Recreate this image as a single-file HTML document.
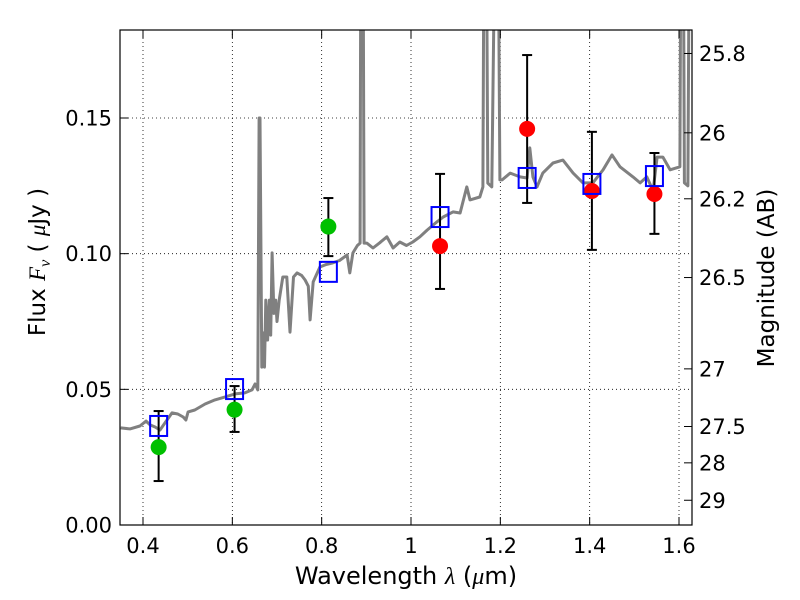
<!DOCTYPE html>
<html><head><meta charset="utf-8"><style>
html,body{margin:0;padding:0;background:#fff;}
svg{display:block;font-family:"DejaVu Sans","Liberation Sans",sans-serif;}
</style></head><body>
<svg id="chart" width="800" height="600" viewBox="0 0 800 600">
<defs><clipPath id="clip"><rect x="120" y="30" width="572" height="495"/></clipPath></defs>
<rect x="0" y="0" width="800" height="600" fill="#fff"/>
<g id="grid"></g>
<g id="spec" clip-path="url(#clip)"></g>
<g id="pts"></g>
<rect x="120" y="30" width="572" height="495" fill="none" stroke="#000" stroke-width="1.2"/>
<g id="axes"></g>
<text x="406" y="584" font-size="24" text-anchor="middle">Wavelength  <tspan font-family="Liberation Serif, serif" font-style="italic">λ</tspan> (<tspan font-family="Liberation Serif, serif" font-style="italic">μ</tspan>m)</text>
<text transform="translate(45,262) rotate(-90)" font-size="23" text-anchor="middle">Flux  <tspan font-family="Liberation Serif, serif" font-style="italic">F<tspan font-size="16" dy="5">ν</tspan></tspan><tspan dy="-5">  ( </tspan><tspan font-family="Liberation Serif, serif" font-style="italic">μ</tspan>Jy )</text>
<text transform="translate(774,278) rotate(-90)" font-size="23" text-anchor="middle">Magnitude (AB)</text>
</svg>
<script>
const specWave=[0.35,0.371,0.393,0.407,0.416,0.427,0.438,0.449,0.465,0.478,0.490,0.496,0.501,0.516,0.539,0.561,0.584,0.606,0.628,0.644,0.651,0.657,0.660,0.662,0.666,0.669,0.672,0.675,0.679,0.683,0.686,0.689,0.693,0.697,0.700,0.705,0.713,0.722,0.729,0.737,0.745,0.755,0.763,0.770,0.774,0.781,0.796,0.810,0.825,0.840,0.857,0.863,0.870,0.880,0.886,0.888,0.892,0.895,0.901,0.915,0.930,0.946,0.960,0.975,0.990,1.004,1.020,1.036,1.058,1.072,1.094,1.110,1.125,1.132,1.154,1.161,1.164,1.168,1.172,1.181,1.190,1.194,1.199,1.204,1.222,1.244,1.260,1.266,1.273,1.282,1.295,1.318,1.340,1.363,1.385,1.407,1.430,1.450,1.468,1.497,1.513,1.528,1.542,1.551,1.564,1.580,1.602,1.605,1.609,1.612,1.620,1.624,1.63];
const specFlux=[0.0358,0.0354,0.0365,0.0383,0.0369,0.0361,0.0350,0.0376,0.0413,0.0409,0.0398,0.0387,0.0417,0.0424,0.0446,0.0461,0.0472,0.0483,0.0487,0.0498,0.0520,0.0498,0.150,0.150,0.0582,0.0708,0.0582,0.0829,0.0682,0.0829,0.0700,0.1003,0.0780,0.0829,0.0750,0.0829,0.0914,0.0914,0.0711,0.0914,0.0929,0.0920,0.0903,0.0880,0.0756,0.0896,0.0951,0.0960,0.0966,0.0975,0.0995,0.0929,0.1003,0.1030,0.1039,0.25,0.25,0.1039,0.1039,0.1021,0.1040,0.1062,0.1021,0.1043,0.1030,0.1043,0.1062,0.1087,0.1117,0.1135,0.1154,0.1150,0.1246,0.1198,0.1209,0.1246,0.25,0.25,0.1260,0.1246,0.25,0.25,0.1272,0.1272,0.1297,0.1283,0.1279,0.1390,0.1283,0.1246,0.1297,0.1334,0.1345,0.1297,0.1261,0.1261,0.1309,0.1364,0.1320,0.1283,0.1261,0.1283,0.1232,0.1356,0.1356,0.1309,0.1320,0.25,0.25,0.1261,0.1250,0.25,0.25];
const greenWave=[0.435,0.605,0.815];
const greenFlux=[0.0287,0.0425,0.110];
const greenLo=[0.0162,0.0343,0.0991];
const greenHi=[0.042,0.0512,0.1205];
const redWave=[1.065,1.26,1.405,1.545];
const redFlux=[0.1028,0.146,0.1231,0.122];
const redLo=[0.087,0.1187,0.1014,0.1073];
const redHi=[0.1294,0.1732,0.1449,0.1371];
const modelWave=[0.435,0.605,0.815,1.065,1.26,1.405,1.545];
const modelFlux=[0.0365,0.0501,0.0933,0.1135,0.1279,0.1257,0.1286];
const xTicks=[0.4,0.6,0.8,1,1.2,1.4,1.6];
const xTickLabels=["0.4","0.6","0.8","1","1.2","1.4","1.6"];
const yTicks=[0,0.05,0.10,0.15];
const yTickLabels=["0.00","0.05","0.10","0.15"];
const magTicks=[25.8,26,26.2,26.5,27,27.5,28,29];
const magTickLabels=["25.8","26","26.2","26.5","27","27.5","28","29"];

const NS="http://www.w3.org/2000/svg";
const X=l=>143+(l-0.4)*446.67;
const Y=f=>525-f*2713.3;
const magToFlux=m=>Math.pow(10,(23.9-m)/2.5);
function mk(tag,attrs,parent){const e=document.createElementNS(NS,tag);for(const k in attrs)e.setAttribute(k,attrs[k]);parent.appendChild(e);return e;}
const grid=document.getElementById('grid'),spec=document.getElementById('spec'),pts=document.getElementById('pts'),axes=document.getElementById('axes');

xTicks.forEach((t,i)=>{
  const x=X(t);
  const g=mk('line',{x1:x,x2:x,y1:30,y2:525,stroke:'#000','stroke-width':0.8,'stroke-dasharray':'1,3'},grid);
  
  
  const a=mk('line',{x1:x,x2:x,y1:525,y2:517,stroke:'#000','stroke-width':1},axes);
  
  
  const b=mk('line',{x1:x,x2:x,y1:30,y2:38,stroke:'#000','stroke-width':1},axes);
  
  
  const tx=mk('text',{x:x,y:553,'font-size':21,'text-anchor':'middle'},axes);
  tx.textContent=xTickLabels[i];
  
  
});
yTicks.forEach((t,i)=>{
  const y=Y(t);
  if(t>0){
    const g=mk('line',{x1:120,x2:692,y1:y,y2:y,stroke:'#000','stroke-width':0.8,'stroke-dasharray':'1,3'},grid);
    
    
  }
  const a=mk('line',{x1:120,x2:128,y1:y,y2:y,stroke:'#000','stroke-width':1},axes);
  
  
  const tx=mk('text',{x:112,y:y+7.5,'font-size':21,'text-anchor':'end'},axes);
  tx.textContent=yTickLabels[i];
  
  
});
magTicks.forEach((m,i)=>{
  const y=Y(magToFlux(m));
  const a=mk('line',{x1:684,x2:692,y1:y,y2:y,stroke:'#000','stroke-width':1},axes);
  
  
  const tx=mk('text',{x:699,y:y+7.5,'font-size':21,'text-anchor':'start'},axes);
  tx.textContent=magTickLabels[i];
  
  
});

const d=specWave.map((l,i)=>(i?'L':'M')+X(l).toFixed(1)+','+Y(specFlux[i]).toFixed(1)).join(' ');
const sp=mk('path',{d:d,fill:'none',stroke:'#808080','stroke-width':3,'stroke-linejoin':'round'},spec);



function errbar(l,lo,hi){
  const x=X(l);
  const a=mk('line',{x1:x,x2:x,y1:Y(lo),y2:Y(hi),stroke:'#000','stroke-width':2},pts);
  
  
  [lo,hi].forEach(v=>{
    const c=mk('line',{x1:x-5,x2:x+5,y1:Y(v),y2:Y(v),stroke:'#000','stroke-width':2},pts);
    
    
  });
}
greenWave.forEach((l,i)=>errbar(l,greenLo[i],greenHi[i]));
redWave.forEach((l,i)=>errbar(l,redLo[i],redHi[i]));
greenWave.forEach((l,i)=>{
  const c=mk('circle',{cx:X(l),cy:Y(greenFlux[i]),r:8,fill:'#00c000'},pts);
  
  
});
redWave.forEach((l,i)=>{
  const c=mk('circle',{cx:X(l),cy:Y(redFlux[i]),r:8,fill:'#ff0000'},pts);
  
  
});
modelWave.forEach((l,i)=>{
  const r=mk('rect',{x:X(l)-8.5,y:Y(modelFlux[i])-10,width:17,height:20,fill:'none',stroke:'#0000ff','stroke-width':2},pts);
  
  
});
</script>
</body></html>
